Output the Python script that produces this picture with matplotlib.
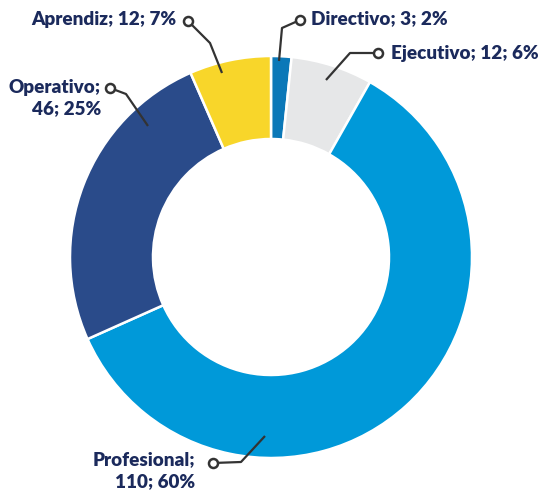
import matplotlib
matplotlib.use("Agg")
import matplotlib.pyplot as plt

categories = ["Directivo", "Ejecutivo", "Profesional", "Operativo", "Aprendiz"]
values = [3, 12, 110, 46, 12]
percents = ["2%", "6%", "60%", "25%", "7%"]
colors = ["#0b78b8", "#e6e7e8", "#0099d9", "#2a4b8a", "#f8d62a"]

W, H = 542, 493
fig = plt.figure(figsize=(W / 100, H / 100), dpi=100)
ax = fig.add_axes([0, 0, 1, 1])

cx, cy, R, ring = 271, H - 257, 201, 83
ax.pie(values, colors=colors, startangle=90, counterclock=False,
       center=(cx, cy), radius=R,
       wedgeprops=dict(width=ring, edgecolor="white", linewidth=1.8))

# label layout (pixel coords, y down): leader points, text pos, alignment
layout = {
    "Directivo":   dict(pts=[(279, 61), (282, 28), (300, 20)], txt=(311, 19), ha="left", two=False),
    "Ejecutivo":   dict(pts=[(326, 80), (350, 53), (378, 53)], txt=(391, 54), ha="left", two=False),
    "Profesional": dict(pts=[(265, 436), (241, 462), (213, 463)], txt=(195, 460), ha="right", two=True),
    "Operativo":   dict(pts=[(148, 126), (126, 94), (110, 88)], txt=(101, 87), ha="right", two=True),
    "Aprendiz":    dict(pts=[(222, 73), (210, 43), (188, 21)], txt=(176, 20), ha="right", two=False),
}

txtc = "#1b2a5c"
lc = "#333333"
font = dict(family=["Lato", "DejaVu Sans"], weight="heavy", size=13.6, color=txtc)
for cat, v, p in zip(categories, values, percents):
    L = layout[cat]
    xs = [q[0] for q in L["pts"]]
    ys = [H - q[1] for q in L["pts"]]
    ax.plot(xs, ys, color=lc, lw=1.6, solid_capstyle="butt", zorder=5)
    ax.plot(xs[-1], ys[-1], marker="o", ms=6.5, mfc="white", mec=lc, mew=1.8, zorder=6)
    tx, ty = L["txt"]
    if L["two"]:
        ax.text(tx, H - ty, f"{cat};", ha=L["ha"], va="center", **font)
        ax.text(tx, H - ty - 22, f"{v}; {p}", ha=L["ha"], va="center", **font)
    else:
        ax.text(tx, H - ty, f"{cat}; {v}; {p}", ha=L["ha"], va="center", **font)

ax.set_xlim(0, W)
ax.set_ylim(0, H)
ax.set_aspect("equal")
ax.axis("off")
fig.savefig("out.png", dpi=100)
